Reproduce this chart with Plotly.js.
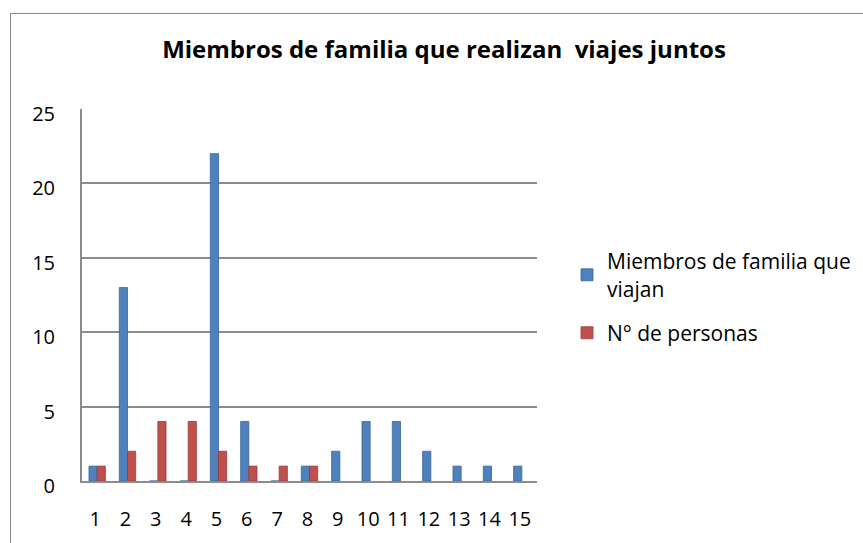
<!DOCTYPE html>
<html>
<head>
<meta charset="utf-8">
<script src="https://cdn.plot.ly/plotly-3.0.1.min.js"></script>
<style>
  html, body { margin: 0; padding: 0; background: #ffffff; overflow: hidden; }
  #frame { position: absolute; left: 10px; top: 13px; width: 900px; height: 600px; border: 1.5px solid #8a8a8a; box-sizing: border-box; }
  #chart { position: absolute; left: 0; top: 0; width: 863px; height: 543px; }
</style>
</head>
<body>
<div id="frame"></div>
<div id="chart"></div>
<script>
const categories = ["1","2","3","4","5","6","7","8","9","10","11","12","13","14","15"];
const miembros = [1, 13, 0, 0, 22, 4, 0, 1, 2, 4, 4, 2, 1, 1, 1];
const personas = [1, 2, 4, 4, 2, 1, 1, 1, 0, 0, 0, 0, 0, 0, 0];
const yTicks = [0, 5, 10, 15, 20, 25];
const chartTitle = "Miembros de familia que realizan  viajes juntos";
const seriesNames = ["Miembros de familia que<br>viajan", "N° de personas"];

const FONT = "'Open Sans', Lato, sans-serif";

const traces = [
  {
    type: "bar", x: categories, y: miembros, name: seriesNames[0],
    legendgroup: "a",
    marker: { color: "#4f81bd", line: { color: "#3a6599", width: 0.8 } },
    hoverinfo: "x+y"
  },
  {
    type: "bar", x: categories, y: personas, name: seriesNames[1],
    legendgroup: "b",
    marker: { color: "#c0504d", line: { color: "#963c3a", width: personas.map(v => v > 0 ? 0.8 : 0) } },
    hoverinfo: "x+y"
  }
];

const layout = {
  width: 863, height: 543,
  paper_bgcolor: "rgba(0,0,0,0)",
  plot_bgcolor: "rgba(0,0,0,0)",
  margin: { l: 82, r: 326, t: 109, b: 62, pad: 0 },
  barmode: "group",
  bargap: 0.46,
  bargroupgap: 0,
  font: { family: FONT, color: "#000000", size: 20 },
  title: {
    text: "<b>" + chartTitle + "</b>",
    font: { family: FONT, size: 24, color: "#000000" },
    x: 444 / 863, xanchor: "center", xref: "container",
    y: 1 - 50 / 543, yanchor: "middle", yref: "container"
  },
  xaxis: {
    type: "category",
    range: [-0.5, 14.5],
    showgrid: false,
    showline: true, linecolor: "#8c8c8c", linewidth: 2,
    ticks: "", ticklabelstandoff: 19, ticklabelshift: -2,
    tickfont: { family: FONT, size: 20 },
    fixedrange: true
  },
  yaxis: {
    range: [0, 25],
    tickvals: yTicks,
    showgrid: true, gridcolor: "#8c8c8c", gridwidth: 2,
    showline: true, linecolor: "#8c8c8c", linewidth: 2,
    zeroline: false,
    ticks: "", ticklabelstandoff: 21, ticklabelshift: 5,
    tickfont: { family: FONT, size: 20 },
    fixedrange: true
  },
  legend: {
    xref: "container", yref: "container",
    x: 567 / 863, y: 1 - 241 / 543,
    xanchor: "left", yanchor: "top",
    font: { family: FONT, size: 21 },
    itemwidth: 30,
    traceorder: "grouped",
    tracegroupgap: 14,
    bgcolor: "rgba(0,0,0,0)"
  },
  showlegend: true
};

Plotly.newPlot("chart", traces, layout, { displayModeBar: false, staticPlot: true });
</script>
</body>
</html>
